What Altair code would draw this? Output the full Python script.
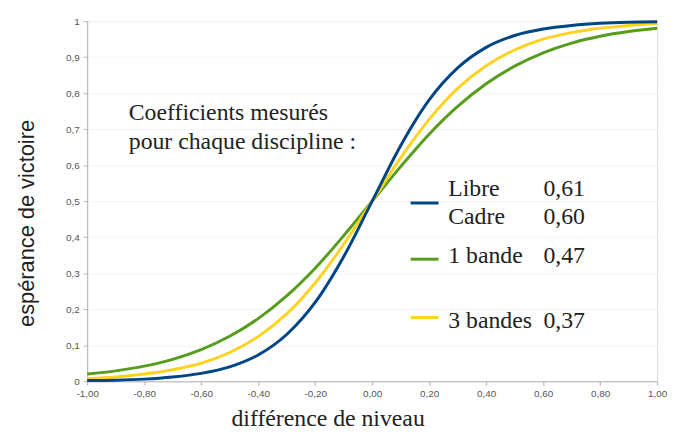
import altair as alt
import pandas as pd

# ---- data ----
x_vals = [-1.0, -0.9, -0.8, -0.7, -0.6, -0.5, -0.4, -0.3, -0.2, -0.1, 0.0,
          0.1, 0.2, 0.3, 0.4, 0.5, 0.6, 0.7, 0.8, 0.9, 1.0]
libre_cadre = [0.002, 0.003, 0.006, 0.012, 0.022, 0.040, 0.073, 0.130, 0.219, 0.346, 0.500,
               0.654, 0.781, 0.870, 0.927, 0.960, 0.978, 0.988, 0.994, 0.997, 0.998]
une_bande = [0.020, 0.029, 0.042, 0.061, 0.088, 0.125, 0.174, 0.237, 0.314, 0.404, 0.500,
             0.596, 0.686, 0.763, 0.826, 0.875, 0.912, 0.939, 0.958, 0.971, 0.980]
trois_bandes = [0.007, 0.012, 0.020, 0.032, 0.050, 0.080, 0.124, 0.187, 0.273, 0.380, 0.500,
                0.620, 0.727, 0.813, 0.876, 0.920, 0.950, 0.968, 0.980, 0.988, 0.993]

series_names = ["Libre / Cadre", "1 bande", "3 bandes"]
series_colors = ["#004586", "#579d1c", "#ffd320"]
draw_order = ["1 bande", "3 bandes", "Libre / Cadre"]

x_ticks = [-1.0, -0.8, -0.6, -0.4, -0.2, 0.0, 0.2, 0.4, 0.6, 0.8, 1.0]
y_ticks = [0, 0.1, 0.2, 0.3, 0.4, 0.5, 0.6, 0.7, 0.8, 0.9, 1.0]

# annotation (legend) content
intro_lines = ["Coefficients mesurés", "pour chaque discipline :"]
intro_y = [0.745, 0.663]
legend_labels = ["Libre", "Cadre", "1 bande", "3 bandes"]
legend_label_y = [0.534, 0.457, 0.347, 0.168]
legend_coefs = ["0,61", "0,60", "0,47", "0,37"]
legend_line_series = ["Libre / Cadre", "1 bande", "3 bandes"]
legend_line_y = [0.495, 0.339, 0.177]

rows = []
for name, vals in zip(series_names, [libre_cadre, une_bande, trois_bandes]):
    for x, y in zip(x_vals, vals):
        rows.append({"serie": name, "d": x, "p": y})
df = pd.DataFrame(rows)

x_scale = alt.Scale(domain=[-1, 1], nice=False, zero=False)
y_scale = alt.Scale(domain=[0, 1], nice=False)
color_scale = alt.Scale(domain=series_names, range=series_colors)

x_axis = alt.Axis(
    values=x_ticks,
    labelExpr="replace(replace(format(datum.value, '.2f'), '.', ','), '\u2212', '-')",
    title="différence de niveau",
    titleFont="Liberation Serif", titleFontSize=24, titleFontWeight="normal",
    titleColor="#222222", titleX=243, titleY=45, titleAlign="center",
    titleBaseline="alphabetic", titleAngle=0,
    labelFont="Liberation Sans", labelFontSize=10, labelColor="#555555",
    labelPadding=3, labelFlush=False, labelOverlap=False,
    tickSize=4, tickColor="#b3b3b3", domainColor="#b3b3b3", grid=False,
)
y_axis = alt.Axis(
    values=y_ticks,
    labelExpr="replace(format(datum.value, '~g'), '.', ',')",
    title="espérance de victoire",
    titleFont="Liberation Sans", titleFontSize=22, titleFontWeight="normal",
    titleColor="#222222", titleX=-61, titleY=204, titleAngle=270,
    titleAlign="center", titleBaseline="middle",
    labelFont="Liberation Sans", labelFontSize=10, labelColor="#555555",
    labelPadding=4, labelFlush=False, labelOverlap=False,
    tickSize=4, tickColor="#b3b3b3", domainColor="#b3b3b3",
    grid=True, gridColor="#f3f3f3",
)


def X(field):
    return alt.X(field, scale=x_scale, axis=x_axis)


def Y(field):
    return alt.Y(field, scale=y_scale, axis=y_axis)


base = alt.Chart(df)
line_layers = []
for name in draw_order:
    line_layers.append(
        base.transform_filter(alt.datum.serie == name)
        .mark_line(strokeWidth=3, interpolate="monotone")
        .encode(x=X("d:Q"), y=Y("p:Q"),
                color=alt.Color("serie:N", scale=color_scale, legend=None))
    )

text_style = dict(align="left", baseline="middle", font="Liberation Serif",
                  fontSize=24, color="#222222")

intro_df = pd.DataFrame({"t": intro_lines, "y": intro_y, "x": [-0.854] * len(intro_lines)})
intro = alt.Chart(intro_df).mark_text(**text_style).encode(x=X("x:Q"), y=Y("y:Q"), text="t:N")

lab_df = pd.DataFrame({"t": legend_labels, "y": legend_label_y, "x": [0.267] * len(legend_labels)})
labels = alt.Chart(lab_df).mark_text(**text_style).encode(x=X("x:Q"), y=Y("y:Q"), text="t:N")

coef_df = pd.DataFrame({"t": legend_coefs, "y": legend_label_y, "x": [0.601] * len(legend_coefs)})
coefs = alt.Chart(coef_df).mark_text(**text_style).encode(x=X("x:Q"), y=Y("y:Q"), text="t:N")

leg_df = pd.DataFrame({"serie": legend_line_series, "y": legend_line_y,
                       "x": [0.135] * 3, "x2": [0.233] * 3})
leg_lines = alt.Chart(leg_df).mark_rule(strokeWidth=3).encode(
    x=X("x:Q"), x2="x2:Q", y=Y("y:Q"),
    color=alt.Color("serie:N", scale=color_scale, legend=None),
)

chart = alt.layer(*line_layers, leg_lines, intro, labels, coefs).properties(
    width=576, height=364,
    autosize=alt.AutoSizeParams(type="none"),
    padding={"left": 80, "top": 11, "right": 14, "bottom": 48},
).configure_view(stroke="#dddddd").configure(background="white")

chart.save("out.html", embed_options={"renderer": "svg", "actions": False})
